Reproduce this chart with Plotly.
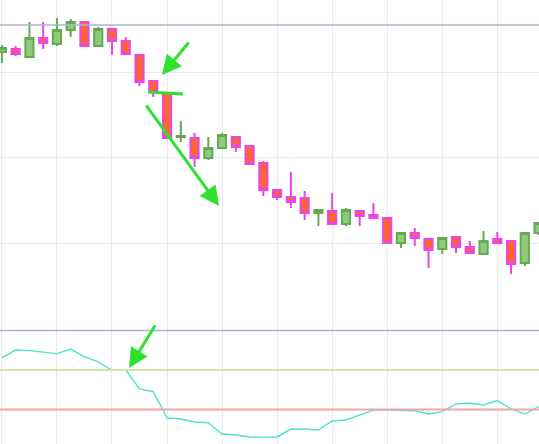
import plotly.graph_objs as go
from plotly.subplots import make_subplots

# bar index (one candle per period)
bars = list(range(40))

opens = [1.4234, 1.4269, 1.4175, 1.4398, 1.4327, 1.4491, 1.4585, 1.4304, 1.4503, 1.4363,
         1.4199, 1.3895, 1.3754, 1.3240, 1.3228, 1.2994, 1.3111, 1.3240, 1.3135, 1.2936,
         1.2620, 1.2538, 1.2526, 1.2351, 1.2374, 1.2222, 1.2374, 1.2327, 1.2292, 1.2000,
         1.2117, 1.2047, 1.1930, 1.2070, 1.1953, 1.1871, 1.2047, 1.2023, 1.1766, 1.2117]
highs = [1.4316, 1.4304, 1.4585, 1.4585, 1.4632, 1.4620, 1.4597, 1.4526, 1.4515, 1.4409,
         1.4211, 1.3895, 1.3754, 1.3427, 1.3287, 1.3240, 1.3287, 1.3251, 1.3146, 1.2959,
         1.2632, 1.2830, 1.2608, 1.2398, 1.2585, 1.2409, 1.2386, 1.2468, 1.2292, 1.2129,
         1.2175, 1.2047, 1.2058, 1.2082, 1.2023, 1.2140, 1.2129, 1.2023, 1.2117, 1.2234]
lows = [1.4105, 1.4187, 1.4164, 1.4269, 1.4304, 1.4409, 1.4292, 1.4292, 1.4199, 1.4199,
        1.3836, 1.3708, 1.3216, 1.3181, 1.2889, 1.2971, 1.3111, 1.3064, 1.2912, 1.2550,
        1.2503, 1.2409, 1.2269, 1.2199, 1.2222, 1.2199, 1.2199, 1.2292, 1.1988, 1.1942,
        1.1965, 1.1708, 1.1871, 1.1883, 1.1871, 1.1871, 1.2000, 1.1637, 1.1731, 1.2094]
closes = [1.4281, 1.4211, 1.4398, 1.4339, 1.4491, 1.4585, 1.4304, 1.4503, 1.4363, 1.4211,
          1.3883, 1.3766, 1.3228, 1.3251, 1.2994, 1.3111, 1.3263, 1.3123, 1.2924, 1.2620,
          1.2538, 1.2480, 1.2351, 1.2386, 1.2222, 1.2386, 1.2316, 1.2292, 1.2000, 1.2117,
          1.2058, 1.1918, 1.2058, 1.1953, 1.1883, 1.2023, 1.2000, 1.1754, 1.2117, 1.2234]

# oscillator (0-100 style) in the lower pane
osc = [56.1, 60.1, 59.8, 59.1, 58.3, 60.6, 56.6, 54.1, 50.0, 50.0,
       40.4, 39.0, 25.8, 25.2, 23.7, 23.3, 17.6, 17.1, 16.1, 15.9,
       16.1, 20.1, 20.1, 19.6, 24.2, 24.7, 27.2, 29.7, 29.7, 29.4,
       29.4, 27.7, 28.9, 32.8, 33.3, 32.3, 34.5, 30.3, 27.7, 31.4]

resistance = 1.4550
osc_levels = {'upper': 70, 'middle': 50, 'lower': 30}

GRID = '#ebebeb'
BLUE_LINE = '#a9b6cb'
DRAW_GREEN = '#2fe02f'

fig = make_subplots(rows=2, cols=1, shared_xaxes=True,
                    vertical_spacing=0, row_heights=[300 / 444, 144 / 444])

fig.add_trace(
    go.Candlestick(
        x=bars, open=opens, high=highs, low=lows, close=closes,
        increasing=dict(line=dict(color='#63aa52', width=2), fillcolor='rgba(134,198,114,0.92)'),
        decreasing=dict(line=dict(color='#e845ea', width=2), fillcolor='rgba(255,88,28,0.92)'),
        whiskerwidth=0,
        hoverinfo='skip',
        showlegend=False
    ),
    row=1, col=1
)

fig.add_trace(
    go.Scatter(x=bars, y=osc, mode='lines',
               line=dict(color='#4fe2d0', width=1.4),
               hoverinfo='skip', showlegend=False),
    row=2, col=1
)

# level lines
fig.add_hline(y=resistance, line=dict(color=BLUE_LINE, width=1.6), row=1, col=1)
fig.add_hline(y=osc_levels['upper'], line=dict(color=BLUE_LINE, width=1.6), row=2, col=1)
fig.add_hline(y=osc_levels['middle'], line=dict(color='#cfe8a8', width=2), row=2, col=1)
fig.add_hline(y=osc_levels['lower'], line=dict(color='#f2a5a5', width=2), row=2, col=1)

# hand drawn marks
fig.add_shape(type='line', x0=10.62, y0=1.3766, x1=13.16, y1=1.3743,
              line=dict(color=DRAW_GREEN, width=3), xref='x', yref='y')
for x, y, ax, ay, yr in [(11.63, 1.3965, 28, -34, 'y'),
                         (15.78, 1.2433, -74, -102, 'y'),
                         (9.24, 51.0, 27, -44, 'y2')]:
    fig.add_annotation(x=x, y=y, xref='x', yref=yr, ax=ax, ay=ay,
                       showarrow=True, arrowhead=2, arrowsize=1.3,
                       arrowwidth=3, arrowcolor=DRAW_GREEN, text='')

fig.update_layout(
    width=539, height=444,
    margin=dict(l=0, r=0, t=0, b=0),
    plot_bgcolor='white', paper_bgcolor='white',
    xaxis_rangeslider_visible=False,
    boxgap=0.15, boxgroupgap=0.3,
    hovermode=False
)

fig.update_xaxes(range=[-0.138, 39.03], tick0=0, dtick=4, showgrid=True,
                 gridcolor=GRID, gridwidth=1, showticklabels=False,
                 zeroline=False, showline=False, ticks='')
fig.update_yaxes(range=[1.13333, 1.48421], tick0=1.2, dtick=0.1, gridcolor=GRID,
                 showticklabels=False, zeroline=False, ticks='', row=1, col=1)
fig.update_yaxes(range=[12.53, 85.44], showgrid=False, showticklabels=False,
                 zeroline=False, ticks='', row=2, col=1)

fig.write_html("out.html", config={'displayModeBar': False},
               post_script="document.body.style.margin='0';")
